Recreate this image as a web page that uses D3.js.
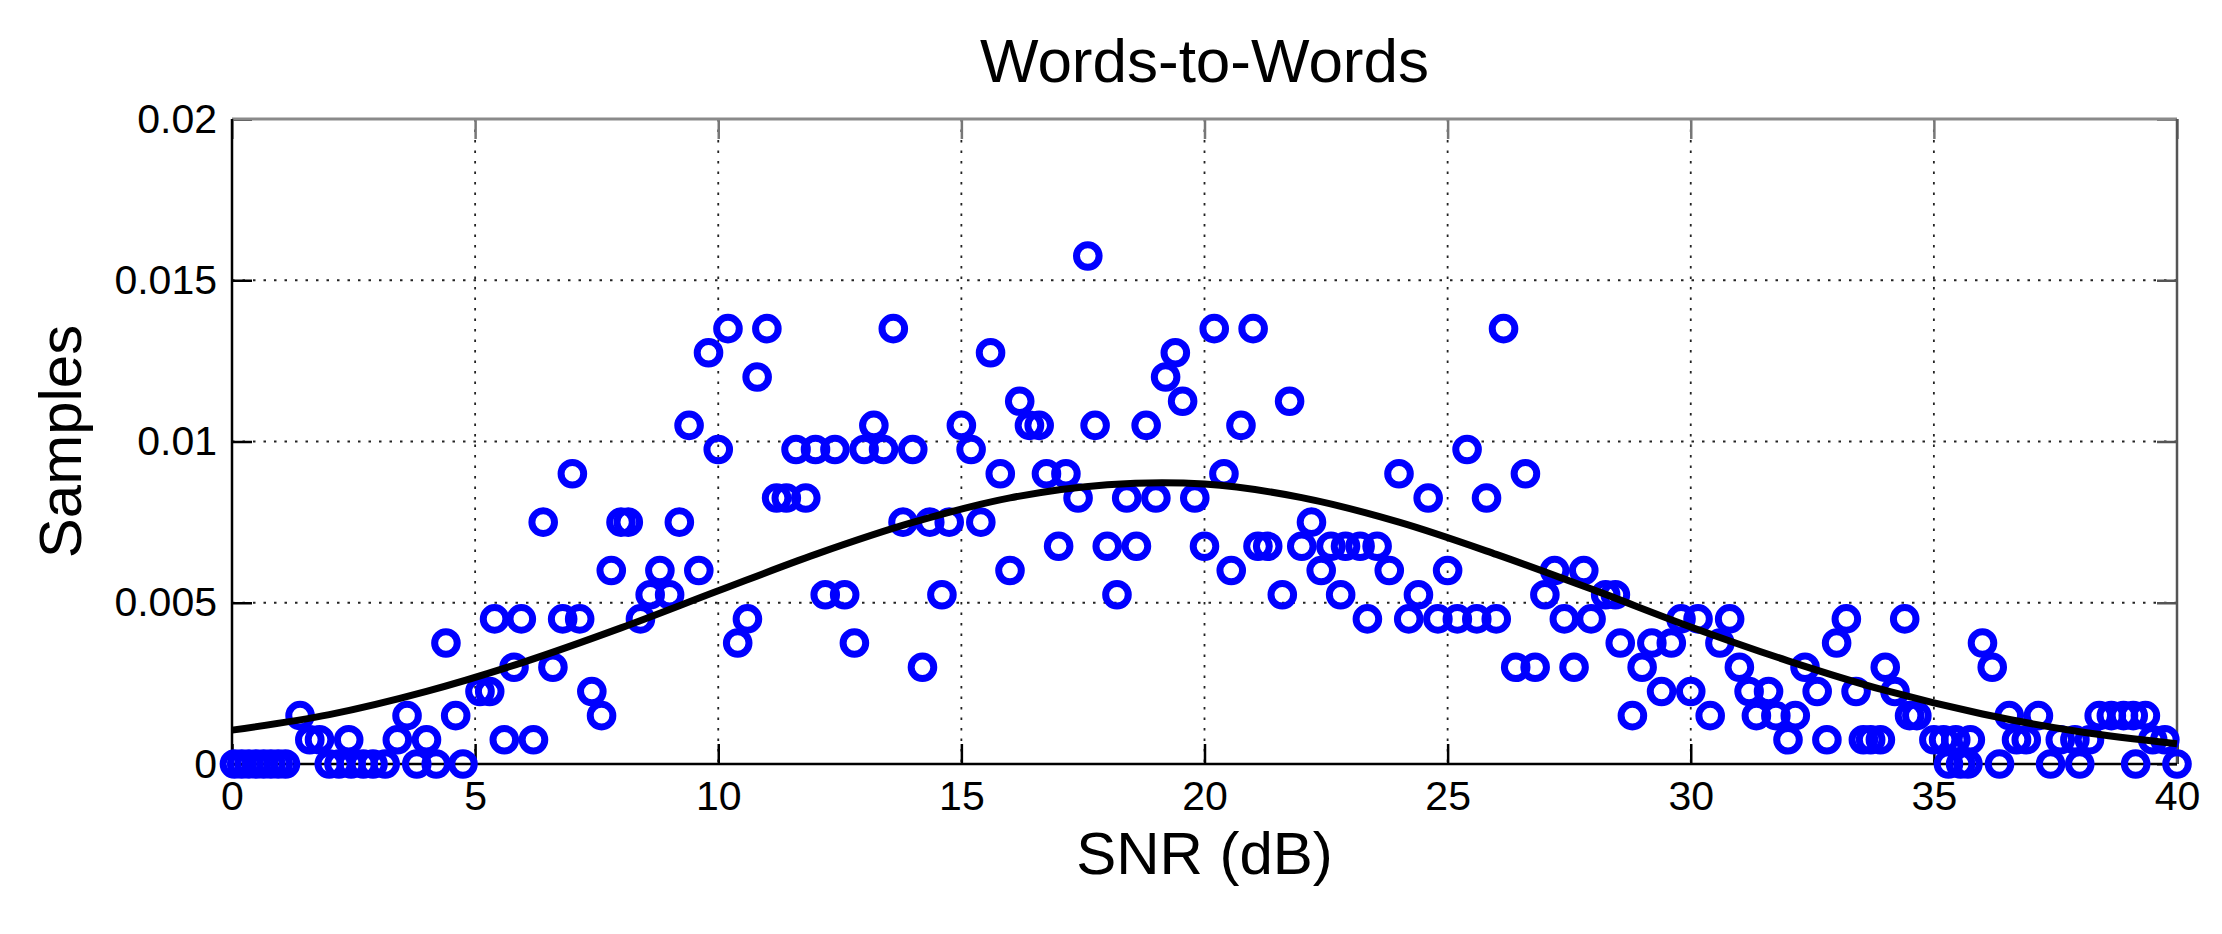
<!DOCTYPE html>
<html>
<head>
<meta charset="utf-8">
<script src="https://cdn.jsdelivr.net/npm/d3@7"></script>
<style>
  html, body { margin: 0; padding: 0; background: #ffffff; }
  svg { display: block; }
  text { font-family: "Liberation Sans", Arial, Helvetica, sans-serif; fill: #000; }
</style>
</head>
<body>
<div id="chart"></div>
<script>
// ---------------- data ----------------
const chartTitle = "Words-to-Words";
const xLabel = "SNR (dB)";
const yLabel = "Samples";

const xTicks = [0, 5, 10, 15, 20, 25, 30, 35, 40];
const yTicks = [0, 0.005, 0.01, 0.015, 0.02];
const yTickLabels = ["0", "0.005", "0.01", "0.015", "0.02"];

// scatter: SNR (dB)
const snr = [
  0.05, 0.2, 0.35, 0.5, 0.65, 0.8, 0.95, 1.1,
  1.4, 1.6, 1.8, 2.0, 2.2, 2.4, 2.45, 2.7, 2.9, 3.15,
  3.4, 3.6, 3.8, 4.0, 4.2, 4.4, 4.6, 4.75,
  5.1, 5.3, 5.4, 5.6, 5.8, 5.95, 6.2, 6.4, 6.6, 6.8, 7.0, 7.15, 7.4, 7.6, 7.8, 8.0, 8.15,
  8.4, 8.6, 8.8, 9.0, 9.2, 9.4, 9.6, 9.8, 10.0,
  10.2, 10.4, 10.6, 10.8, 11.0, 11.2, 11.4, 11.6, 11.8, 12.0, 12.2, 12.4, 12.6, 12.8, 13.0, 13.2,
  13.4, 13.6, 13.8, 14.0, 14.2, 14.35, 14.6, 14.75, 15.0, 15.2, 15.4, 15.6, 15.8, 16.0, 16.2, 16.4, 16.6,
  16.75, 17.0, 17.15, 17.4, 17.6, 17.75, 18.0, 18.2, 18.4, 18.6, 18.8, 19.0, 19.2, 19.4, 19.55, 19.8, 20.0,
  20.2, 20.4, 20.55, 20.75, 21.0, 21.1, 21.3, 21.6, 21.75, 22.0, 22.2, 22.4, 22.6, 22.8, 22.9, 23.2, 23.35, 23.55, 23.8, 24.0,
  24.2, 24.4, 24.6, 24.8, 25.0, 25.2, 25.4, 25.6, 25.8, 26.0, 26.15, 26.4, 26.6, 26.8, 27.0,
  27.2, 27.4, 27.6, 27.8, 27.95, 28.25, 28.45, 28.55, 28.8, 29.0, 29.2, 29.4, 29.6, 29.8, 30.0, 30.15, 30.4, 30.6, 30.8,
  31.0, 31.2, 31.35, 31.6, 31.75, 32.0, 32.15, 32.35, 32.6, 32.8, 33.0, 33.2, 33.4,
  33.55, 33.7, 33.9, 34.0, 34.2, 34.4, 34.5, 34.65, 35.0, 35.2, 35.3, 35.45, 35.55, 35.7, 35.75, 36.0, 36.2, 36.35,
  36.55, 36.7, 36.9, 37.15, 37.4, 37.6, 37.9, 38.0, 38.2, 38.4, 38.65, 38.9, 39.1, 39.15, 39.35, 39.5, 39.75, 40.0
];

// scatter: Samples (normalised histogram value)
const samples = [
  0, 0, 0, 0, 0, 0, 0, 0,
  0.0015, 0.00075, 0.00075, 0, 0, 0.00075, 0, 0, 0, 0,
  0.00075, 0.0015, 0, 0.00075, 0, 0.00375, 0.0015, 0,
  0.00225, 0.00225, 0.0045, 0.00075, 0.003, 0.0045, 0.00075, 0.0075, 0.003, 0.0045, 0.009, 0.0045, 0.00225, 0.0015, 0.006, 0.0075, 0.0075,
  0.0045, 0.00525, 0.006, 0.00525, 0.0075, 0.0105, 0.006, 0.01275, 0.00975,
  0.0135, 0.00375, 0.0045, 0.012, 0.0135, 0.00825, 0.00825, 0.00975, 0.00825, 0.00975, 0.00525, 0.00975, 0.00525, 0.00375, 0.00975, 0.0105,
  0.00975, 0.0135, 0.0075, 0.00975, 0.003, 0.0075, 0.00525, 0.0075, 0.0105, 0.00975, 0.0075, 0.01275, 0.009, 0.006, 0.01125, 0.0105, 0.0105,
  0.009, 0.00675, 0.009, 0.00825, 0.01575, 0.0105, 0.00675, 0.00525, 0.00825, 0.00675, 0.0105, 0.00825, 0.012, 0.01275, 0.01125, 0.00825, 0.00675,
  0.0135, 0.009, 0.006, 0.0105, 0.0135, 0.00675, 0.00675, 0.00525, 0.01125, 0.00675, 0.0075, 0.006, 0.00675, 0.00525, 0.00675, 0.00675, 0.0045, 0.00675, 0.006, 0.009,
  0.0045, 0.00525, 0.00825, 0.0045, 0.006, 0.0045, 0.00975, 0.0045, 0.00825, 0.0045, 0.0135, 0.003, 0.009, 0.003, 0.00525,
  0.006, 0.0045, 0.003, 0.006, 0.0045, 0.00525, 0.00525, 0.00375, 0.0015, 0.003, 0.00375, 0.00225, 0.00375, 0.0045, 0.00225, 0.0045, 0.0015, 0.00375, 0.0045,
  0.003, 0.00225, 0.0015, 0.00225, 0.0015, 0.00075, 0.0015, 0.003, 0.00225, 0.00075, 0.00375, 0.0045, 0.00225,
  0.00075, 0.00075, 0.00075, 0.003, 0.00225, 0.0045, 0.0015, 0.0015, 0.00075, 0.00075, 0, 0.00075, 0, 0, 0.00075, 0.00375, 0.003, 0,
  0.0015, 0.00075, 0.00075, 0.0015, 0, 0.00075, 0.00075, 0, 0.00075, 0.0015, 0.0015, 0.0015, 0.0015, 0, 0.0015, 0.00075, 0.00075, 0
];

// fitted curve, every 2 dB
const fitSnr = [0, 2, 4, 6, 8, 10, 12, 14, 16, 18, 20, 22, 24, 26, 28, 30, 32, 34, 36, 38, 40];
const fitSamples = [0.00105, 0.00153, 0.00225, 0.00316, 0.00422, 0.00537, 0.0065, 0.00749, 0.00825, 0.00866, 0.00868,
                    0.00826, 0.0075, 0.0065, 0.0054, 0.00425, 0.0032, 0.00228, 0.00155, 0.001, 0.00063];

// ---------------- layout ----------------
const W = 2222, H = 934;
const plot = { left: 232, right: 2177, top: 119, bottom: 764 };

const svg = d3.select("#chart").append("svg")
  .attr("width", W).attr("height", H)
  .attr("viewBox", `0 0 ${W} ${H}`);

svg.append("rect").attr("width", W).attr("height", H).attr("fill", "#fff");

const x = d3.scaleLinear().domain([0, 40]).range([plot.left, plot.right]);
const y = d3.scaleLinear().domain([0, 0.02]).range([plot.bottom, plot.top]);

// grid (dotted)
const grid = svg.append("g").attr("class", "grid");
grid.selectAll("line.vx").data(xTicks.filter(t => t > 0 && t < 40)).enter().append("line")
  .attr("x1", d => x(d)).attr("x2", d => x(d))
  .attr("y1", plot.top).attr("y2", plot.bottom)
  .attr("stroke", "#222").attr("stroke-width", 1.8).attr("stroke-dasharray", "2.5,8");
grid.selectAll("line.hy").data(yTicks.filter(t => t > 0 && t < 0.02)).enter().append("line")
  .attr("x1", plot.left).attr("x2", plot.right)
  .attr("y1", d => y(d)).attr("y2", d => y(d))
  .attr("stroke", "#222").attr("stroke-width", 1.8).attr("stroke-dasharray", "2.5,8");

// axes with inward ticks
const tickLen = 20;
const fontTick = 41;

const gx = svg.append("g").attr("transform", `translate(0,${plot.bottom})`)
  .call(d3.axisBottom(x).tickValues(xTicks).tickSize(-tickLen).tickPadding(17).tickFormat(d3.format("d")));
const gy = svg.append("g").attr("transform", `translate(${plot.left},0)`)
  .call(d3.axisLeft(y).tickValues(yTicks).tickSize(-tickLen).tickPadding(15).tickFormat((d, i) => yTickLabels[i]));
const gxt = svg.append("g").attr("transform", `translate(0,${plot.top})`)
  .call(d3.axisTop(x).tickValues(xTicks).tickSize(-tickLen).tickFormat(""));
const gyr = svg.append("g").attr("transform", `translate(${plot.right},0)`)
  .call(d3.axisRight(y).tickValues(yTicks).tickSize(-tickLen).tickFormat(""));

[gx, gy, gxt, gyr].forEach(g => {
  g.select(".domain").remove();
  g.selectAll("text").attr("font-size", fontTick).attr("font-family", "Liberation Sans, Arial, sans-serif").attr("fill", "#000");
});
gx.selectAll(".tick line").attr("stroke", "#000").attr("stroke-width", 2.5);
gy.selectAll(".tick line").attr("stroke", "#000").attr("stroke-width", 2.5);
gxt.selectAll(".tick line").attr("stroke", "#777").attr("stroke-width", 2.5);
gyr.selectAll(".tick line").attr("stroke", "#555").attr("stroke-width", 2.5);

// box
svg.append("line").attr("x1", plot.left).attr("x2", plot.right).attr("y1", plot.top).attr("y2", plot.top)
  .attr("stroke", "#8a8a8a").attr("stroke-width", 3);
svg.append("line").attr("x1", plot.right).attr("x2", plot.right).attr("y1", plot.top).attr("y2", plot.bottom)
  .attr("stroke", "#555").attr("stroke-width", 2.5);
svg.append("line").attr("x1", plot.left).attr("x2", plot.right).attr("y1", plot.bottom).attr("y2", plot.bottom)
  .attr("stroke", "#000").attr("stroke-width", 2.5);
svg.append("line").attr("x1", plot.left).attr("x2", plot.left).attr("y1", plot.top).attr("y2", plot.bottom)
  .attr("stroke", "#000").attr("stroke-width", 2.5);

// scatter markers
const pts = snr.map((v, i) => ({ x: v, y: samples[i] }));
svg.append("g").selectAll("circle").data(pts).enter().append("circle")
  .attr("cx", d => x(d.x)).attr("cy", d => y(d.y)).attr("r", 11.3)
  .attr("fill", "none").attr("stroke", "#0000ff").attr("stroke-width", 7);

// fitted curve
const fit = fitSnr.map((v, i) => ({ x: v, y: fitSamples[i] }));
svg.append("path").datum(fit)
  .attr("d", d3.line().x(d => x(d.x)).y(d => y(d.y)).curve(d3.curveCatmullRom))
  .attr("fill", "none").attr("stroke", "#000").attr("stroke-width", 7)
  .attr("stroke-linejoin", "round").attr("stroke-linecap", "butt");

// titles
svg.append("text").attr("x", (plot.left + plot.right) / 2).attr("y", 82)
  .attr("text-anchor", "middle").attr("font-size", 62).text(chartTitle);
svg.append("text").attr("x", (plot.left + plot.right) / 2).attr("y", 874)
  .attr("text-anchor", "middle").attr("font-size", 60).text(xLabel);
svg.append("text").attr("transform", `translate(81,${(plot.top + plot.bottom) / 2}) rotate(-90)`)
  .attr("text-anchor", "middle").attr("font-size", 60).text(yLabel);
</script>
</body>
</html>
